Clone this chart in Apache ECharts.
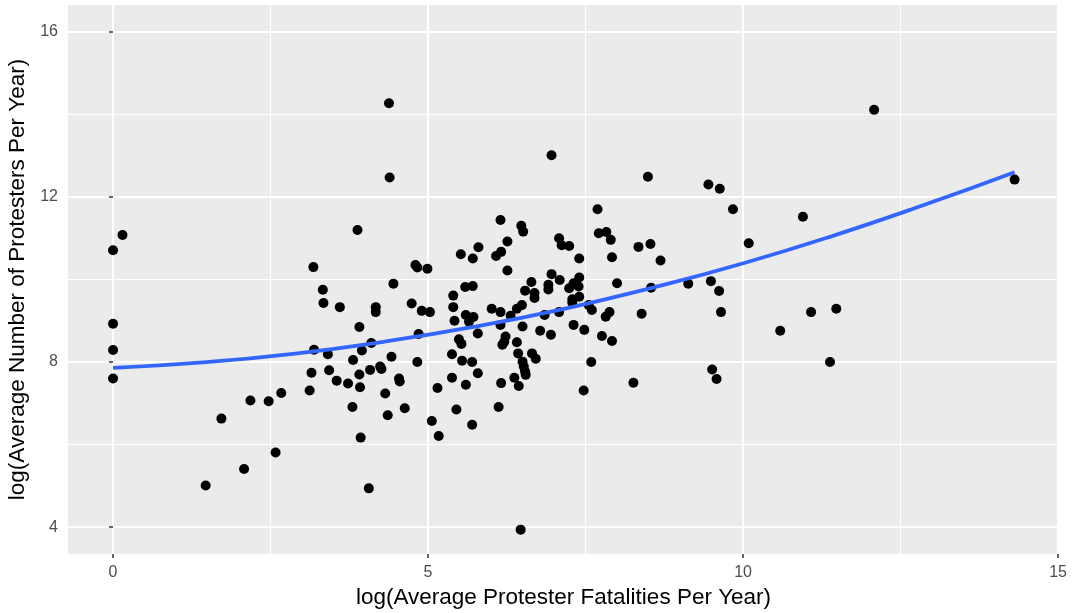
<!DOCTYPE html>
<html>
<head>
<meta charset="utf-8">
<script src="https://cdn.jsdelivr.net/npm/echarts@6/dist/echarts.min.js"></script>
<style>
  html, body { margin: 0; padding: 0; background: #ffffff; }
  #chart { width: 1072px; height: 613px; }
</style>
</head>
<body>
<div id="chart"></div>
<script>
// log(average protester fatalities per year) for each country-period
const fatalities = [
  4.38, 4.39, 6.96, 8.49, 9.45, 9.63, 12.08, 14.31, 0.15, 0.00,
  3.18, 3.33, 3.34, 0.00, 0.00, 3.19, 3.41, 3.15, 3.43, 0.00,
  3.12, 2.67, 3.88, 6.15, 6.48, 6.51, 6.26, 5.80, 5.52, 5.71,
  6.08, 6.16, 6.26, 7.08, 7.12, 7.24, 7.40, 4.80, 4.83, 4.99,
  4.45, 3.60, 4.17, 4.17, 4.74, 4.90, 5.03, 5.40, 5.40, 5.42,
  5.59, 5.71, 5.60, 5.72, 5.65, 6.01, 6.15, 6.15, 6.31, 6.41,
  6.49, 6.54, 6.64, 6.69, 6.69, 6.50, 6.85, 6.91, 6.91, 6.96,
  7.09, 7.08, 7.24, 7.31, 7.40, 7.39, 7.40, 7.29, 7.29, 7.31,
  7.48, 7.55, 3.91, 4.10, 3.95, 3.81, 4.42, 4.85, 4.83, 5.79,
  5.49, 5.53, 5.38, 5.54, 5.70, 6.23, 6.21, 6.18, 6.41, 6.43,
  6.50, 6.52, 6.54, 6.65, 6.71, 6.78, 6.95, 7.59, 3.55, 3.73,
  3.91, 3.92, 4.08, 4.24, 4.26, 4.54, 4.55, 5.38, 5.60, 5.79,
  6.16, 6.37, 6.44, 6.55, 5.15, 7.47, 7.69, 9.84, 10.95, 7.71,
  7.83, 7.90, 8.34, 8.53, 10.09, 7.92, 8.69, 8.00, 8.54, 9.13,
  9.49, 9.62, 7.60, 7.88, 7.82, 8.39, 9.65, 11.08, 11.48, 7.76,
  7.92, 10.59, 11.38, 9.51, 9.58, 8.26, 1.72, 2.18, 2.47, 2.58,
  2.08, 1.47, 4.32, 3.80, 4.36, 4.63, 5.06, 5.45, 6.12, 5.70,
  3.93, 5.17, 4.06, 6.47
];

// log(average number of protesters per year), same order
const protesters = [
  14.27, 12.47, 13.01, 12.49, 12.30, 12.20, 14.11, 12.42, 11.08, 10.71,
  10.30, 9.75, 9.43, 8.93, 8.29, 8.30, 8.19, 7.74, 7.80, 7.60,
  7.31, 7.25, 11.20, 11.44, 11.30, 11.16, 10.92, 10.78, 10.61, 10.51,
  10.57, 10.67, 10.22, 11.00, 10.83, 10.81, 10.51, 10.35, 10.29, 10.26,
  9.90, 9.33, 9.33, 9.21, 9.42, 9.24, 9.21, 9.61, 9.33, 9.00,
  9.82, 9.84, 9.14, 9.09, 8.98, 9.29, 9.21, 8.90, 9.12, 9.29,
  9.38, 9.73, 9.94, 9.67, 9.55, 8.86, 9.14, 9.87, 9.76, 10.13,
  9.99, 9.21, 9.79, 9.91, 10.05, 9.83, 9.58, 9.52, 9.44, 8.90,
  8.78, 9.38, 8.85, 8.46, 8.28, 8.05, 8.13, 8.68, 8.00, 8.69,
  8.55, 8.44, 8.19, 8.03, 8.00, 8.62, 8.49, 8.42, 8.48, 8.21,
  8.01, 7.89, 7.77, 8.21, 8.08, 8.76, 8.66, 8.00, 7.55, 7.48,
  7.70, 7.39, 7.81, 7.89, 7.83, 7.60, 7.53, 7.62, 7.45, 7.73,
  7.49, 7.62, 7.42, 7.69, 7.37, 7.31, 11.70, 11.70, 11.52, 11.12,
  11.15, 10.96, 10.79, 10.86, 10.88, 10.54, 10.46, 9.91, 9.80, 9.90,
  9.96, 9.72, 9.26, 9.21, 9.10, 9.17, 9.21, 9.21, 9.29, 8.63,
  8.51, 8.76, 8.00, 7.82, 7.59, 7.50, 6.63, 7.07, 7.05, 5.81,
  5.41, 5.01, 7.24, 6.91, 6.71, 6.88, 6.57, 6.85, 6.91, 6.48,
  6.17, 6.21, 4.94, 3.94
];

// fitted smooth trend, sampled at even steps along the fatalities axis
const trendX = [0, 1.43, 2.86, 4.29, 5.72, 7.16, 8.59, 10.02, 11.45, 12.88, 14.31];
const trendY = [7.86, 7.99, 8.20, 8.49, 8.85, 9.29, 9.81, 10.40, 11.07, 11.81, 12.60];

// axis breaks
const xMajorTicks = [0, 5, 10, 15];
const xMinorTicks = [2.5, 7.5, 12.5];
const yMajorTicks = [4, 8, 12, 16];
const yMinorTicks = [6, 10, 14];

const xTitle = 'log(Average Protester Fatalities Per Year)';
const yTitle = 'log(Average Number of Protesters Per Year)';

const FONT = "'Liberation Sans', Arial, Helvetica, sans-serif";
const X_MIN = -0.715, X_MAX = 15.015;
const Y_MIN = 3.35, Y_MAX = 16.65;

const points = fatalities.map((x, i) => [x, protesters[i]]);
const trend = trendX.map((x, i) => [x, trendY[i]]);

const chart = echarts.init(document.getElementById('chart'), null, { renderer: 'canvas' });

const hidden = { show: false };

chart.setOption({
  animation: false,
  backgroundColor: '#ffffff',
  grid: {
    left: 68, right: 13, top: 5, bottom: 59,
    containLabel: false, outerBoundsMode: 'none',
    show: true, backgroundColor: '#EBEBEB', borderWidth: 0
  },
  xAxis: [
    {
      type: 'value', min: X_MIN, max: X_MAX,
      axisLine: hidden,
      axisTick: { show: true, length: 4, lineStyle: { color: '#333333', width: 1.5 }, customValues: xMajorTicks },
      axisLabel: { customValues: xMajorTicks, color: '#4D4D4D', fontSize: 16, fontFamily: FONT, margin: 11 },
      splitLine: { show: true, lineStyle: { color: '#ffffff', width: 2 } },
      name: xTitle, nameLocation: 'middle', nameGap: 32,
      nameTextStyle: { color: '#000000', fontSize: 22.5, fontFamily: FONT }
    },
    {
      type: 'value', min: X_MIN, max: X_MAX, position: 'bottom',
      axisLine: hidden, axisLabel: hidden,
      axisTick: { show: false, customValues: xMinorTicks },
      splitLine: { show: true, lineStyle: { color: '#ffffff', width: 1 } }
    }
  ],
  yAxis: [
    {
      type: 'value', min: Y_MIN, max: Y_MAX,
      axisLine: hidden,
      axisTick: { show: true, length: 4, lineStyle: { color: '#333333', width: 1.5 }, customValues: yMajorTicks },
      axisLabel: { customValues: yMajorTicks, color: '#4D4D4D', fontSize: 16, fontFamily: FONT, margin: 10 },
      splitLine: { show: true, lineStyle: { color: '#ffffff', width: 2 } },
      name: yTitle, nameLocation: 'middle', nameGap: 29,
      nameTextStyle: { color: '#000000', fontSize: 22.5, fontFamily: FONT }
    },
    {
      type: 'value', min: Y_MIN, max: Y_MAX, position: 'left',
      axisLine: hidden, axisLabel: hidden,
      axisTick: { show: false, customValues: yMinorTicks },
      splitLine: { show: true, lineStyle: { color: '#ffffff', width: 1 } }
    }
  ],
  series: [
    {
      type: 'scatter', xAxisIndex: 0, yAxisIndex: 0,
      data: points, symbol: 'circle', symbolSize: 10,
      itemStyle: { color: '#000000', opacity: 1 },
      z: 3
    },
    {
      type: 'line', xAxisIndex: 0, yAxisIndex: 0,
      data: trend, smooth: true, showSymbol: false,
      lineStyle: { color: '#3366FF', width: 3.8 },
      z: 4
    }
  ]
});
</script>
</body>
</html>
